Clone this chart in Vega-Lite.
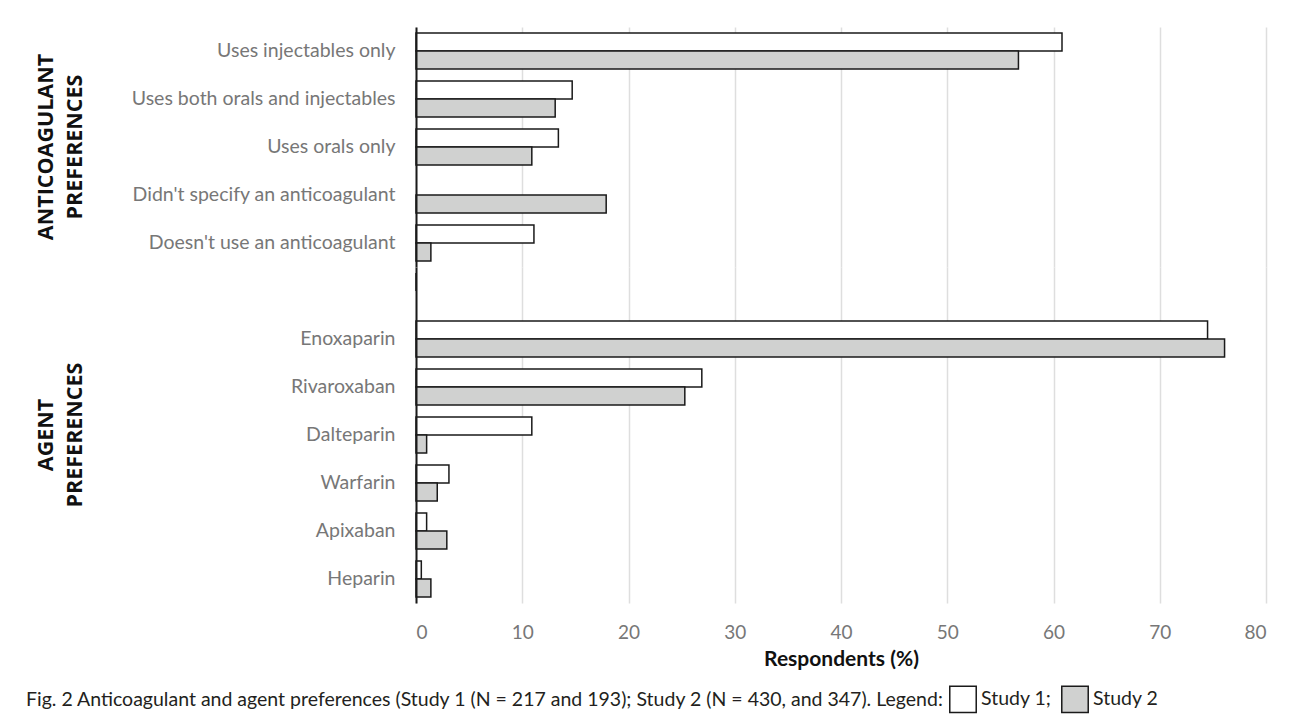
{
  "$schema": "https://vega.github.io/schema/vega-lite/v6.json",
  "padding": {"left": 26, "top": 27, "right": 10, "bottom": 5},
  "background": "white",
  "data": {
    "values": [
      {"group": "ANTICOAGULANT|PREFERENCES", "category": "Uses injectables only", "study": "Study 1", "value": 60.8},
      {"group": "ANTICOAGULANT|PREFERENCES", "category": "Uses injectables only", "study": "Study 2", "value": 56.7},
      {"group": "ANTICOAGULANT|PREFERENCES", "category": "Uses both orals and injectables", "study": "Study 1", "value": 14.7},
      {"group": "ANTICOAGULANT|PREFERENCES", "category": "Uses both orals and injectables", "study": "Study 2", "value": 13.1},
      {"group": "ANTICOAGULANT|PREFERENCES", "category": "Uses orals only", "study": "Study 1", "value": 13.4},
      {"group": "ANTICOAGULANT|PREFERENCES", "category": "Uses orals only", "study": "Study 2", "value": 10.9},
      {"group": "ANTICOAGULANT|PREFERENCES", "category": "Didn't specify an anticoagulant", "study": "Study 2", "value": 17.9},
      {"group": "ANTICOAGULANT|PREFERENCES", "category": "Doesn't use an anticoagulant", "study": "Study 1", "value": 11.1},
      {"group": "ANTICOAGULANT|PREFERENCES", "category": "Doesn't use an anticoagulant", "study": "Study 2", "value": 1.4},
      {"group": "AGENT|PREFERENCES", "category": " ", "study": "Study 1", "value": 0},
      {"group": "AGENT|PREFERENCES", "category": "Enoxaparin", "study": "Study 1", "value": 74.5},
      {"group": "AGENT|PREFERENCES", "category": "Enoxaparin", "study": "Study 2", "value": 76.1},
      {"group": "AGENT|PREFERENCES", "category": "Rivaroxaban", "study": "Study 1", "value": 26.9},
      {"group": "AGENT|PREFERENCES", "category": "Rivaroxaban", "study": "Study 2", "value": 25.3},
      {"group": "AGENT|PREFERENCES", "category": "Dalteparin", "study": "Study 1", "value": 10.9},
      {"group": "AGENT|PREFERENCES", "category": "Dalteparin", "study": "Study 2", "value": 1.0},
      {"group": "AGENT|PREFERENCES", "category": "Warfarin", "study": "Study 1", "value": 3.1},
      {"group": "AGENT|PREFERENCES", "category": "Warfarin", "study": "Study 2", "value": 2.0},
      {"group": "AGENT|PREFERENCES", "category": "Apixaban", "study": "Study 1", "value": 1.0},
      {"group": "AGENT|PREFERENCES", "category": "Apixaban", "study": "Study 2", "value": 2.9},
      {"group": "AGENT|PREFERENCES", "category": "Heparin", "study": "Study 1", "value": 0.5},
      {"group": "AGENT|PREFERENCES", "category": "Heparin", "study": "Study 2", "value": 1.4}
    ]
  },
  "facet": {
    "row": {
      "field": "group",
      "type": "nominal",
      "sort": ["ANTICOAGULANT|PREFERENCES", "AGENT|PREFERENCES"],
      "title": null,
      "header": {
        "labelExpr": "split(datum.value, '|')",
        "labelAngle": -90,
        "labelFont": "Open Sans",
        "labelFontSize": 21.5,
        "labelFontWeight": "bold",
        "labelColor": "#111111",
        "labelLineHeight": 29,
        "labelPadding": 34
      }
    }
  },
  "spacing": 0,
  "resolve": {"scale": {"y": "independent"}},
  "spec": {
    "width": 850,
    "height": {"step": 18},
    "mark": {"type": "bar", "stroke": "#1a1a1a", "strokeWidth": 1.5},
    "encoding": {
      "y": {
        "field": "category",
        "type": "nominal",
        "sort": null,
        "scale": {"paddingInner": 0.25, "paddingOuter": 0.125},
        "axis": {
          "title": null,
          "domain": true,
          "domainColor": "#1a1a1a",
          "domainWidth": 2,
          "ticks": false,
          "grid": false,
          "labelPadding": 21,
          "labelLimit": 400,
          "labelFont": "Lato",
          "labelFontSize": 19.5,
          "labelColor": "#777777",
          "zindex": 1
        }
      },
      "yOffset": {"field": "study", "type": "nominal", "sort": ["Study 1", "Study 2"]},
      "x": {
        "field": "value",
        "type": "quantitative",
        "scale": {"domain": [0, 80], "nice": false},
        "axis": {
          "values": [0, 10, 20, 30, 40, 50, 60, 70, 80],
          "domain": false,
          "ticks": false,
          "grid": true,
          "gridColor": "#dedede",
          "gridWidth": 1.5,
          "labelPadding": 20,
          "labelFont": "Lato",
          "labelFontSize": 19,
          "labelColor": "#777777",
          "title": "Respondents (%)",
          "titleFont": "Lato",
          "titleFontSize": 21,
          "titleFontWeight": "bold",
          "titleColor": "#111111",
          "titlePadding": 6
        }
      },
      "fill": {
        "field": "study",
        "type": "nominal",
        "scale": {"domain": ["Study 1", "Study 2"], "range": ["#ffffff", "#d0d1d0"]},
        "legend": {
          "orient": "none",
          "legendX": -390,
          "legendY": 658,
          "direction": "horizontal",
          "title": "Fig. 2 Anticoagulant and agent preferences (Study 1 (N = 217 and 193); Study 2 (N = 430, and 347). Legend:",
          "titleOrient": "left",
          "titleFont": "Lato",
          "titleFontSize": 19.5,
          "titleFontWeight": "normal",
          "titleColor": "#231f20",
          "titleLimit": 1100,
          "titlePadding": 4,
          "labelExpr": "datum.label == 'Study 1' ? 'Study 1;' : datum.label",
          "labelFont": "Lato",
          "labelFontSize": 19.5,
          "labelColor": "#231f20",
          "symbolType": "square",
          "symbolSize": 700,
          "symbolStrokeColor": "#1a1a1a",
          "symbolStrokeWidth": 1.5,
          "columnPadding": 6
        }
      }
    }
  },
  "config": {
    "view": {"stroke": null}
  }
}
